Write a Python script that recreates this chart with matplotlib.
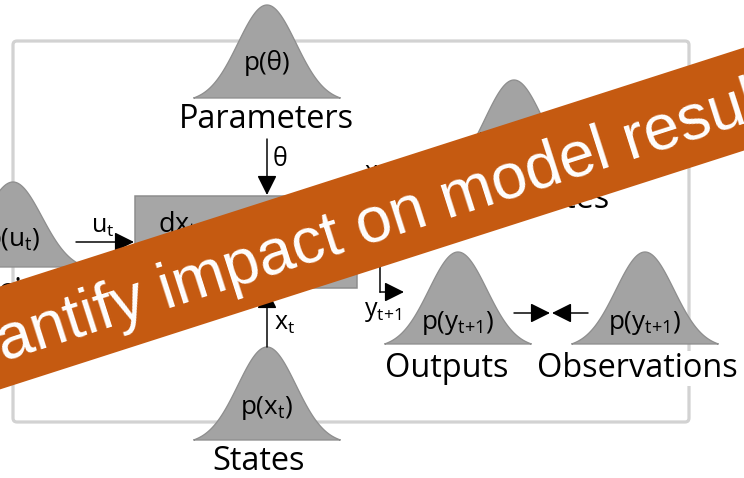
import numpy as np
import matplotlib
matplotlib.use('Agg')
import matplotlib.pyplot as plt
from matplotlib.patches import Polygon, Rectangle, FancyBboxPatch

plt.rcParams['font.family'] = ['Open Sans', 'DejaVu Sans']
plt.rcParams['mathtext.fontset'] = 'custom'
plt.rcParams['mathtext.rm'] = 'Open Sans'
plt.rcParams['mathtext.it'] = 'Open Sans'
plt.rcParams['mathtext.bf'] = 'Open Sans:bold'

# ---- content ----
dist_texts = ['p(θ)', r'p(u$_\mathrm{t}$)', r'p(x$_\mathrm{t{+}1}$)', r'p(x$_\mathrm{t}$)',
              r'p(y$_\mathrm{t{+}1}$)', r'p(y$_\mathrm{t{+}1}$)']
dist_labels = ['Parameters', 'Forcings', 'New states', 'States', 'Outputs', 'Observations']
arrow_labels = ['θ', r'u$_\mathrm{t}$', r'x$_\mathrm{t}$', r'y$_\mathrm{t{+}1}$', r'x$_\mathrm{t{+}1}$']
model_text = r'dx$_\mathrm{t}$'
banner_text = 'Quantify impact on model results'

# ---- layout (pixel coordinates, y downwards) ----
bell_cx = [267, 13, 514, 267, 458, 645]
bell_base = [98, 267, 175, 440, 344, 344]
bell_h = [93, 85, 95, 93, 92, 92]
text_y = [63, 240, 140, 408, 323, 323]
label_x = [266, 13, 526, 259, 447, 637]
label_base = [128, 301, 208, 470, 377, 377]

BELL_FC = '#a3a3a3'
BELL_EC = '#8e8e8e'
FRAME = '#d2d2d2'
ORANGE = '#c55a11'
PX = 0.72  # px -> pt at 100 dpi

fig = plt.figure(figsize=(7.44, 4.78), dpi=100)
ax = fig.add_axes([0, 0, 1, 1])
ax.set_xlim(0, 744)
ax.set_ylim(478, 0)
ax.axis('off')

# frame
ax.add_patch(FancyBboxPatch((13, 41), 676, 381, boxstyle='round,pad=0,rounding_size=4',
                            fc='none', ec=FRAME, lw=3.2 * PX, zorder=1))


def bell(cx, base, h, halfw=73.5, sigma=29.0):
    x = np.linspace(-halfw, halfw, 300)
    g = np.exp(-x ** 2 / (2 * sigma ** 2))
    g = (g - g[0]) / (1 - g[0])
    pts = np.column_stack([cx + x, base - h * g])
    ax.add_patch(Polygon(pts, closed=True, fc=BELL_FC, ec=BELL_EC, lw=1.3 * PX, zorder=3))


for i in range(len(dist_texts)):
    bell(bell_cx[i], bell_base[i], bell_h[i])
    ax.text(bell_cx[i], text_y[i], dist_texts[i], ha='center', va='center',
            fontsize=26 * PX, color='black', zorder=4)
    bb = dict(fc='white', ec='none', pad=1) if dist_labels[i] == 'Observations' else None
    ax.text(label_x[i], label_base[i], dist_labels[i], ha='center', va='baseline',
            fontsize=32.5 * PX, color='black', zorder=4, bbox=bb)

# model box
ax.add_patch(Rectangle((135, 196), 222, 92, fc='#a6a6a6', ec='#8c8c8c', lw=1.5 * PX, zorder=2))
ax.text(158, 225, model_text, ha='left', va='center', fontsize=27 * PX, zorder=4)

arrow_kw = dict(arrowstyle='-|>,head_length=1.0,head_width=0.5', color='black',
                lw=1.5 * PX, mutation_scale=12, shrinkA=0, shrinkB=0)


def arrow(x0, y0, x1, y1):
    ax.annotate('', xy=(x1, y1), xytext=(x0, y0), arrowprops=arrow_kw, zorder=5)


arrow(267, 139, 267, 195)           # theta
arrow(76, 242, 134, 242)            # u_t
arrow(267, 347, 267, 289)           # x_t
ax.plot([357, 380, 380], [265, 265, 292], color='black', lw=1.5 * PX, zorder=5)
arrow(380, 292, 404, 292)           # y_t+1
arrow(514, 313, 550, 313)
arrow(588, 313, 552, 313)

ax.text(273, 160, arrow_labels[0], ha='left', va='center', fontsize=25 * PX, zorder=5)
ax.text(91, 226, arrow_labels[1], ha='left', va='center', fontsize=25 * PX, zorder=5)
ax.text(274, 323, arrow_labels[2], ha='left', va='center', fontsize=25 * PX, zorder=5)
ax.text(364, 311, arrow_labels[3], ha='left', va='center', fontsize=25 * PX, zorder=5)
ax.text(364, 173, arrow_labels[4], ha='left', va='center', fontsize=25 * PX, zorder=5)

# banner
ang = np.deg2rad(17.8)
d = np.array([np.cos(ang), -np.sin(ang)])
n = np.array([np.sin(ang), np.cos(ang)])
c = np.array([372, 218.5])
hh = 49.0
L = 700
corners = [c - L * d - hh * n, c + L * d - hh * n, c + L * d + hh * n, c - L * d + hh * n]
ax.add_patch(Polygon(corners, closed=True, fc=ORANGE, ec='none', zorder=10))
ax.text(366, 245, banner_text, rotation=17.8, rotation_mode='anchor', ha='center',
        va='baseline', fontsize=64 * PX, color='white', family='Liberation Sans', zorder=11)

fig.savefig('out.png', dpi=100)
